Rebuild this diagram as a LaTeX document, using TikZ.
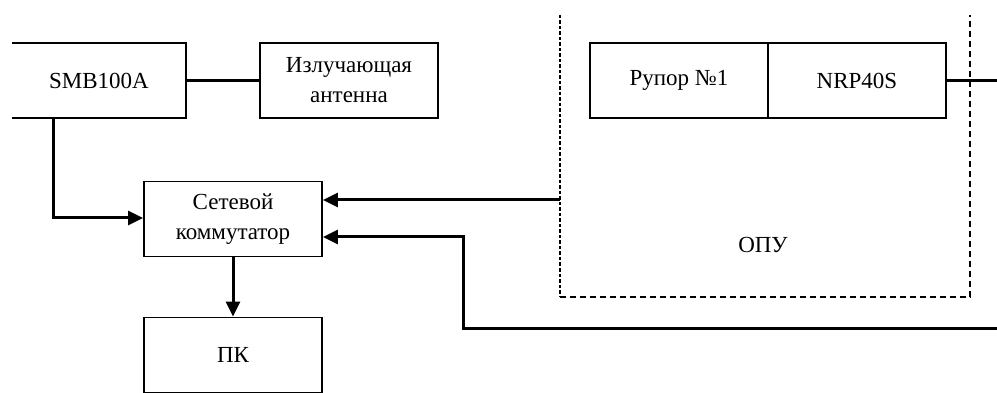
\documentclass[tikz,border=0pt]{standalone}
\usepackage{fontspec}
\setmainfont{Liberation Serif}
\usetikzlibrary{arrows.meta}
\tikzset{
  blk/.style={draw, line width=1.8pt, minimum width=178pt, minimum height=75pt, inner sep=0pt, align=center, font=\fontsize{23}{30}\selectfont},
  txt/.style={inner sep=0pt, align=center, font=\fontsize{23}{30}\selectfont},
  wire/.style={line width=3pt},
  arr/.style={line width=3pt, -{Triangle[length=15pt,width=14pt]}},
}
\begin{document}
\begin{tikzpicture}[x=1pt,y=-1pt]
\useasboundingbox (0,0) rectangle (997,393);
\fill[white] (0,0) rectangle (997,393);
\clip (0,0) rectangle (997,393);
% SMB100A (left edge cropped)
\node[txt, minimum width=174pt, minimum height=75pt] (smb) at (99,80.5) {SMB100A};
\draw[line width=1.8pt] (smb.north west) -- (smb.north east) -- (smb.south east) -- (smb.south west);
\node[blk] (ant) at (349,80.5) {Излучающая\\антенна};
\node[blk] (sw) at (233,219) {Сетевой\\коммутатор};
\node[blk] (pk) at (233,355) {ПК};
\node[blk] (rup) at (679,80.5) {Рупор №1};
\node[blk] (nrp) at (857,80.5) {NRP40S};
% OPU enclosure
\coordinate (opuTL) at (560,15);
\coordinate (opuBL) at (560,297);
\coordinate (opuBR) at (970,297);
\coordinate (opuTR) at (970,15);
\draw[line width=2.8pt, dash pattern=on 3.5pt off 2pt] (opuTL) -- (opuBL);
\draw[line width=1.6pt, dash pattern=on 6pt off 4pt] (opuBL) -- (opuBR) -- (opuTR);
\node[txt] (opu) at (763,245) {ОПУ};
% connections
\draw[wire] (smb.east) -- (ant.west);
\coordinate (nrpR) at (997,80.5);
\draw[wire] (nrp.east) -- (nrpR);
\draw[arr] (smb.south -| 53,0) |- (sw.west |- 0,218);
\draw[arr] (sw.south) -- (pk.north);
\coordinate (opuL) at (560,200);
\draw[arr] (opuL) -- (sw.east |- opuL);
\coordinate (botR) at (997,328);
\draw[arr] (botR) -- (463,328) -- (463,237) -- (sw.east |- 0,237);
\end{tikzpicture}
\end{document}
